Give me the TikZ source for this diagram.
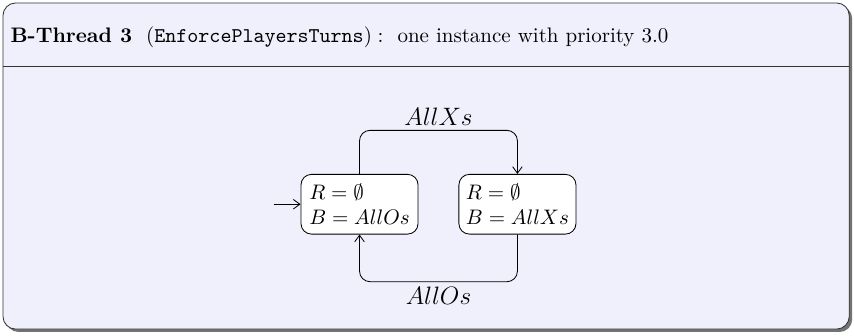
\documentclass[tikz,border=0pt]{standalone}
\usepackage{amsmath,amssymb}
\usepackage{xcolor}
\usepackage{tikz}
\usetikzlibrary{arrows.meta, positioning, shadows}

\definecolor{panelbg}{RGB}{240,240,252}

\begin{document}
\begin{tikzpicture}[
  node distance=6.7mm,
  panel/.style={draw=black!80, rounded corners=6pt, fill=panelbg,
                drop shadow={shadow xshift=1.4pt, shadow yshift=-1.4pt, fill=black!55, opacity=1}},
  state/.style={draw, rounded corners=5pt, align=left, inner sep=1.5pt,
                minimum width=1.96cm, minimum height=1.0cm, fill=white},
  lbl/.style={font=\large},
  arr/.style={-{Straight Barb[length=1.1mm, width=1.6mm]}, rounded corners=5pt}
]
\useasboundingbox (0,0) rectangle (14.3,5.61);
% outer panel and title
\draw[panel] (0.05,0.10) rectangle (14.22,5.56);
\draw[black!80] (0.05,4.505) -- (14.22,4.505);
\node[anchor=west, inner sep=0pt] (title) at (0.17,4.99)
  {\textbf{B-Thread 3}~~$(\texttt{EnforcePlayersTurns}):$~~one instance with priority 3.0};

% states
\node[state] (sO) at (6.02,2.19) {$R=\emptyset$\\$B=AllOs$};
\node[state, right=of sO] (sX) {$R=\emptyset$\\$B=AllXs$};
\coordinate[left=4.5mm of sO] (init);

\draw[arr] (init) -- (sO);
\draw[arr] (sO.north) -- ++(0,0.73) -| node[lbl, pos=0.25, above=-1pt] {$AllXs$} (sX.north);
\draw[arr] (sX.south) -- ++(0,-0.79) -| node[lbl, pos=0.25, below=-1pt] {$AllOs$} (sO.south);
\end{tikzpicture}
\end{document}
